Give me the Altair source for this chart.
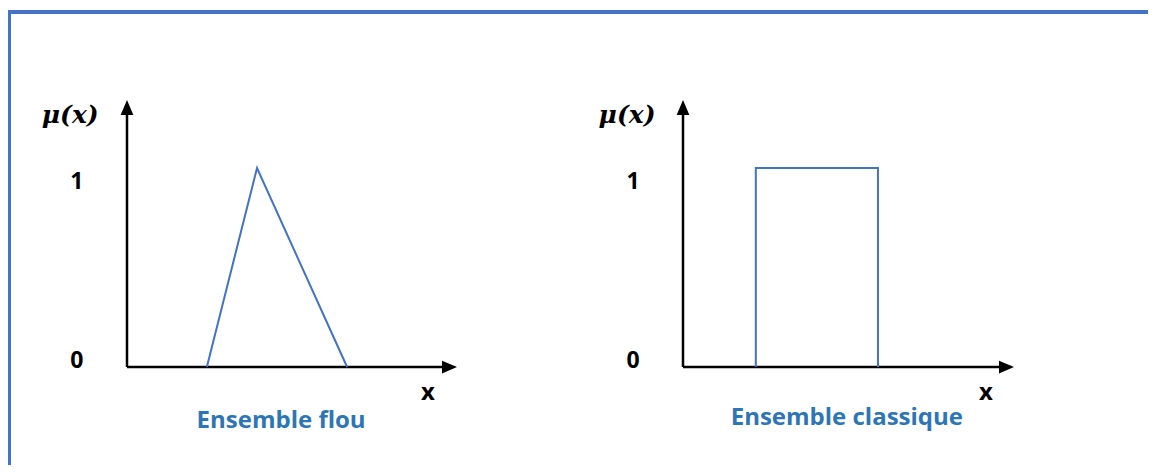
import altair as alt
import pandas as pd

# ---- data (diagram units: x from 0 to 10 along each axis, mu from 0 to 1) ----
fuzzy_x = [2.42, 3.94, 6.67]
fuzzy_mu = [0, 1, 0]
crisp_x = [2.2, 2.2, 5.89, 5.89]
crisp_mu = [0, 1, 1, 0]

axis_x_end = [10, 10]
axis_mu_end = [1.342, 1.342]

tick_labels = ["0", "1"]
tick_mu = [0.03, 0.93]
tick_x = [-1.52, -1.51]

mu_label = "μ(x)"
mu_label_x = [-1.72, -1.69]
mu_label_mu = [1.266, 1.266]

x_label = "x"
x_label_x = [9.12, 9.15]
x_label_mu = [-0.131, -0.131]

titles = ["Ensemble flou", "Ensemble classique"]
title_x = [4.67, 4.95]
title_mu = [-0.307, -0.29]

# ---- layout / style ----
PANEL_W, PANEL_H = 570, 457
ORIGIN_X = [119, 105]      # px of x=0 inside each panel
PX_PER_X = [33.0, 33.1]
ORIGIN_Y = 359             # px (from top) of mu=0
PX_PER_MU = 199.0
LINE_BLUE = "#4472C4"
TITLE_BLUE = "#2E75B6"
BORDER_BLUE = "#4472C4"
UP_HEAD = "M0,0L-0.85,2L0.85,2Z"
RIGHT_HEAD = "M0,0L-2,-0.85L-2,0.85Z"


def panel(i, sx, smu):
    xs = alt.Scale(domain=[-ORIGIN_X[i] / PX_PER_X[i], (PANEL_W - ORIGIN_X[i]) / PX_PER_X[i]],
                   nice=False, zero=False)
    ys = alt.Scale(domain=[-(PANEL_H - ORIGIN_Y) / PX_PER_MU, ORIGIN_Y / PX_PER_MU],
                   nice=False, zero=False)
    X = lambda f: alt.X(f, type="quantitative", scale=xs, axis=None)
    Y = lambda f: alt.Y(f, type="quantitative", scale=ys, axis=None)

    # axes (lines stop just short of the arrow tips)
    axes_df = pd.DataFrame({
        "x": [0, 0], "y": [0, 0],
        "x2": [axis_x_end[i] - 0.25, 0],
        "y2": [0, axis_mu_end[i] - 0.04],
    })
    axes = alt.Chart(axes_df).mark_rule(color="black", strokeWidth=2.5).encode(
        x=X("x"), y=Y("y"), x2="x2", y2="y2")

    up = alt.Chart(pd.DataFrame({"x": [0], "y": [axis_mu_end[i]]})).mark_point(
        shape=UP_HEAD, filled=True, color="black", opacity=1, size=225, strokeWidth=0
    ).encode(x=X("x"), y=Y("y"))
    right = alt.Chart(pd.DataFrame({"x": [axis_x_end[i]], "y": [0]})).mark_point(
        shape=RIGHT_HEAD, filled=True, color="black", opacity=1, size=225, strokeWidth=0
    ).encode(x=X("x"), y=Y("y"))

    shape_df = pd.DataFrame({"x": sx, "y": smu, "o": list(range(len(sx)))})
    shape = alt.Chart(shape_df).mark_line(color=LINE_BLUE, strokeWidth=2).encode(
        x=X("x"), y=Y("y"), order="o:Q")

    ticks_df = pd.DataFrame({"x": [tick_x[i]] * len(tick_labels), "y": tick_mu, "t": tick_labels})
    ticks = alt.Chart(ticks_df).mark_text(
        font="Open Sans", fontWeight="bold", fontSize=23, color="black",
        align="center", baseline="middle"
    ).encode(x=X("x"), y=Y("y"), text="t:N")

    mu_df = pd.DataFrame({"x": [mu_label_x[i]], "y": [mu_label_mu[i]], "t": [mu_label]})
    mu = alt.Chart(mu_df).mark_text(
        font="DejaVu Serif", fontWeight="bold", fontStyle="italic", fontSize=25,
        color="black", align="center", baseline="middle"
    ).encode(x=X("x"), y=Y("y"), text="t:N")

    xl_df = pd.DataFrame({"x": [x_label_x[i]], "y": [x_label_mu[i]], "t": [x_label]})
    xl = alt.Chart(xl_df).mark_text(
        font="Open Sans", fontWeight="bold", fontSize=24, color="black",
        align="center", baseline="middle"
    ).encode(x=X("x"), y=Y("y"), text="t:N")

    ti_df = pd.DataFrame({"x": [title_x[i]], "y": [title_mu[i]], "t": [titles[i]]})
    ti = alt.Chart(ti_df).mark_text(
        font="Open Sans", fontWeight="bold", fontSize=24, color=TITLE_BLUE,
        align="center", baseline="alphabetic"
    ).encode(x=X("x"), y=Y("y"), text="t:N")

    top = alt.Chart(ti_df).mark_rect(color=BORDER_BLUE, strokeWidth=0).encode(
        x=alt.value(0), x2=alt.value(PANEL_W), y=alt.value(2), y2=alt.value(6))
    layers = [top, axes, up, right, shape, ticks, mu, xl, ti]
    if i == 0:
        left = alt.Chart(ti_df).mark_rect(color=BORDER_BLUE, strokeWidth=0).encode(
            x=alt.value(0), x2=alt.value(3), y=alt.value(2), y2=alt.value(PANEL_H))
        layers.insert(0, left)
    return alt.layer(*layers).properties(width=PANEL_W, height=PANEL_H)


chart = alt.hconcat(
    panel(0, fuzzy_x, fuzzy_mu), panel(1, crisp_x, crisp_mu), spacing=0, bounds="flush"
).properties(padding=0, background="white").configure_view(stroke=None)

chart.save("out.html", embed_options={"renderer": "svg", "actions": False})
